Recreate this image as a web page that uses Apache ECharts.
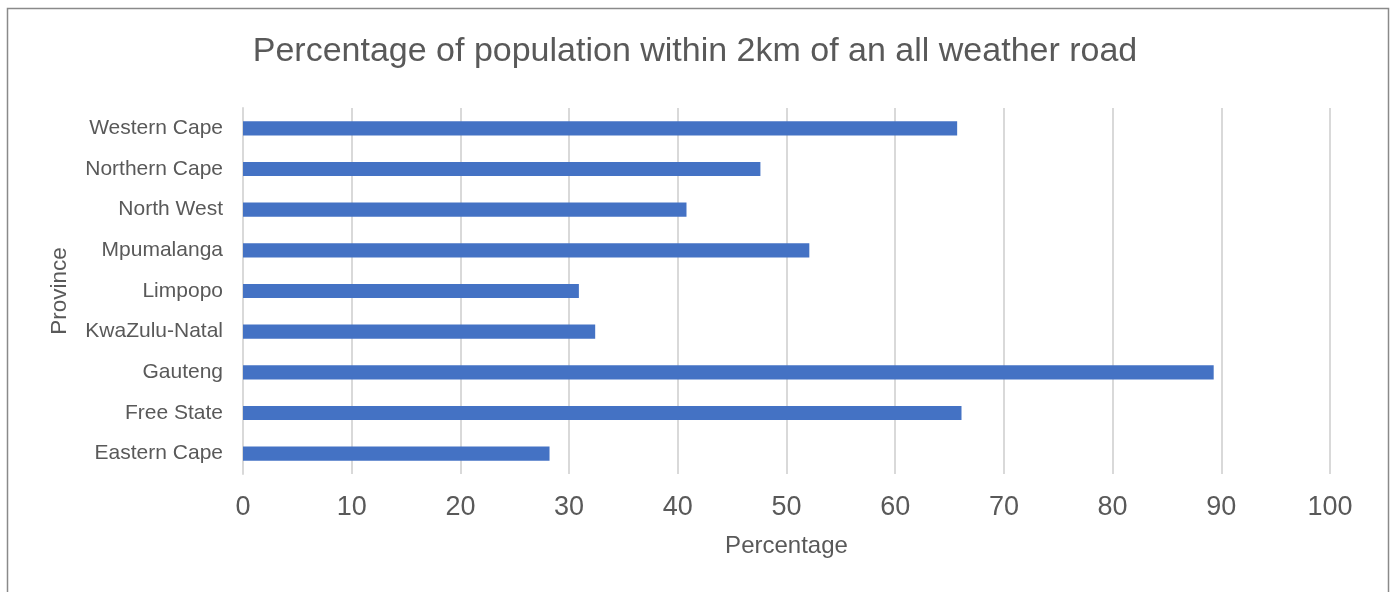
<!DOCTYPE html>
<html>
<head>
<meta charset="utf-8">
<script src="https://cdn.jsdelivr.net/npm/echarts@6/dist/echarts.min.js"></script>
<style>
html,body{margin:0;padding:0;background:#fff;}
#chart{width:1390px;height:592px;}
</style>
</head>
<body>
<div id="chart"></div>
<script>
const titleText = 'Percentage of population within 2km of an all weather road';
const provinces = ['Eastern Cape','Free State','Gauteng','KwaZulu-Natal','Limpopo','Mpumalanga','North West','Northern Cape','Western Cape'];
const percentages = [28.2, 66.1, 89.3, 32.4, 30.9, 52.1, 40.8, 47.6, 65.7];
const xTicks = [0,10,20,30,40,50,60,70,80,90,100];
const xAxisName = 'Percentage';
const yAxisName = 'Province';

const chart = echarts.init(document.getElementById('chart'), null, {renderer:'canvas'});
const font = 'Liberation Sans, Arial, Helvetica, sans-serif';
chart.setOption({
  animation:false,
  backgroundColor:'#ffffff',
  textStyle:{fontFamily:font},
  graphic:[{
    type:'rect', left:5, top:6, silent:true,
    shape:{x:0,y:0,width:1381,height:600},
    style:{fill:'none', stroke:'#8a8a8a', lineWidth:1.5}
  }],
  title:{
    text:titleText, left:'center', top:30,
    textStyle:{fontFamily:font, fontSize:34, fontWeight:'normal', color:'#595959'}
  },
  grid:{left:243, right:60, top:108, bottom:118, containLabel:false},
  xAxis:{
    type:'value', min:xTicks[0], max:xTicks[xTicks.length-1], interval:10,
    name:xAxisName, nameLocation:'middle', nameGap:60,
    nameTextStyle:{fontFamily:font, fontSize:24, color:'#595959'},
    axisLine:{show:false}, axisTick:{show:false},
    axisLabel:{fontFamily:font, fontSize:27, color:'#595959', margin:20},
    splitLine:{show:true, lineStyle:{color:'#d9d9d9', width:2}}
  },
  yAxis:{
    type:'category', data:provinces,
    name:yAxisName, nameLocation:'middle', nameGap:172, nameRotate:90,
    nameTextStyle:{fontFamily:font, fontSize:22.5, color:'#595959'},
    axisLine:{show:true, lineStyle:{color:'#d9d9d9', width:2}},
    axisTick:{show:false},
    axisLabel:{fontFamily:font, fontSize:21, color:'#595959', margin:20}
  },
  series:[{
    type:'bar', data:percentages, barWidth:'35%',
    itemStyle:{color:'#4472c4'}
  }]
});
</script>
</body>
</html>
